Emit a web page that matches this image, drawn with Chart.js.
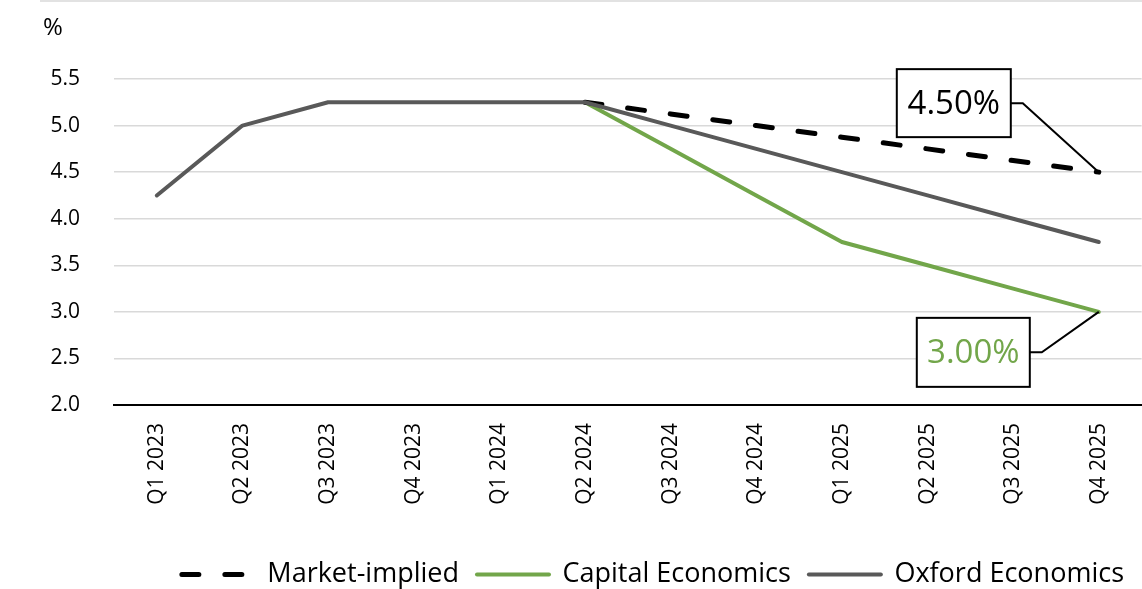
<!DOCTYPE html>
<html>
<head>
<meta charset="utf-8">
<script src="https://cdn.jsdelivr.net/npm/chart.js@4/dist/chart.umd.min.js"></script>
<style>
  html, body { margin: 0; padding: 0; background: #fff; }
  #wrap { width: 1142px; height: 589px; position: relative; }
</style>
</head>
<body>
<div id="wrap"><canvas id="rateChart"></canvas></div>
<script>
  const quarters = [
    "Q1 2023", "Q2 2023", "Q3 2023", "Q4 2023",
    "Q1 2024", "Q2 2024", "Q3 2024", "Q4 2024",
    "Q1 2025", "Q2 2025", "Q3 2025", "Q4 2025",
  ];
  const marketImplied = [null, null, null, null, null, 5.25, 5.125, 5.0, 4.875, 4.75, 4.625, 4.5];
  const capitalEconomics = [null, null, null, null, null, 5.25, 4.75, 4.25, 3.75, 3.5, 3.25, 3.0];
  const oxfordEconomics = [4.25, 5.0, 5.25, 5.25, 5.25, 5.25, 5.0, 4.75, 4.5, 4.25, 4.0, 3.75];
  const yMin = 2.0;
  const yMax = 5.5;
  const yStep = 0.5;
  const callouts = [
    { dataset: 0, text: "4.50%" },
    { dataset: 1, text: "3.00%" },
  ];

  const FONT = "'Open Sans', 'DejaVu Sans', sans-serif";
  const colors = {
    market: "#000000",
    capital: "#72a64a",
    oxford: "#595959",
    grid: "#d9d9d9",
    text: "#000000",
  };

  // box placement relative to the last point of each series
  const calloutLayout = [
    { dx: -202, dy: -103, w: 114, h: 68, color: colors.text },
    { dx: -182, dy: 6, w: 113, h: 69, color: colors.capital },
  ];

  const extrasPlugin = {
    id: "extras",
    afterDraw(chart) {
      const ctx = chart.ctx;
      ctx.save();
      // thin frame line at the top
      ctx.strokeStyle = colors.grid;
      ctx.lineWidth = 1.5;
      ctx.beginPath();
      ctx.moveTo(40, 1);
      ctx.lineTo(chart.width, 1);
      ctx.stroke();

      ctx.fillStyle = colors.text;
      ctx.font = "24px " + FONT;
      ctx.textAlign = "left";
      ctx.textBaseline = "middle";
      ctx.fillText("%", 43, 28);

      callouts.forEach((c, i) => {
        const meta = chart.getDatasetMeta(c.dataset);
        const pt = meta.data[meta.data.length - 1];
        const lay = calloutLayout[i];
        const bx = pt.x + lay.dx;
        const by = pt.y + lay.dy;
        ctx.strokeStyle = "#000";
        ctx.lineWidth = 2;
        ctx.beginPath();
        ctx.moveTo(bx + lay.w, by + lay.h / 2);
        ctx.lineTo(bx + lay.w + 12, by + lay.h / 2);
        ctx.lineTo(pt.x, pt.y);
        ctx.stroke();
        ctx.fillStyle = "#fff";
        ctx.fillRect(bx, by, lay.w, lay.h);
        ctx.strokeRect(bx, by, lay.w, lay.h);
        ctx.fillStyle = lay.color;
        ctx.font = "33px " + FONT;
        ctx.textAlign = "center";
        ctx.textBaseline = "middle";
        ctx.fillText(c.text, bx + lay.w / 2, by + lay.h / 2 + 1);
      });
      ctx.restore();
    },
  };

  function legendLabels(chart) {
    const items = Chart.defaults.plugins.legend.labels.generateLabels(chart);
    return items.map((item) => {
      const ds = chart.data.datasets[item.datasetIndex];
      item.lineDash = ds.borderDash || [];
      item.lineWidth = ds.borderWidth;
      item.lineCap = ds.borderCapStyle || "butt";
      item.strokeStyle = ds.borderColor;
      item.pointStyle = "line";
      return item;
    });
  }

  const ctx = document.getElementById("rateChart").getContext("2d");
  new Chart(ctx, {
    type: "line",
    data: {
      labels: quarters,
      datasets: [
        {
          label: "Market-implied",
          data: marketImplied,
          borderColor: colors.market,
          backgroundColor: colors.market,
          borderWidth: 5,
          borderDash: [17, 26],
          borderCapStyle: "round",
          pointRadius: 0,
          tension: 0,
          order: 1,
        },
        {
          label: "Capital Economics",
          data: capitalEconomics,
          borderColor: colors.capital,
          backgroundColor: colors.capital,
          borderWidth: 4,
          borderCapStyle: "round",
          borderJoinStyle: "round",
          pointRadius: 0,
          tension: 0,
          order: 1,
        },
        {
          label: "Oxford Economics",
          data: oxfordEconomics,
          borderColor: colors.oxford,
          backgroundColor: colors.oxford,
          borderWidth: 4,
          borderCapStyle: "round",
          borderJoinStyle: "round",
          pointRadius: 0,
          tension: 0,
          order: 0,
        },
      ],
    },
    options: {
      responsive: true,
      maintainAspectRatio: false,
      animation: false,
      layout: { padding: { top: 79, left: 0, right: 0, bottom: -9 } },
      plugins: {
        legend: {
          position: "bottom",
          align: "end",
          labels: {
            usePointStyle: true,
            pointStyle: "line",
            pointStyleWidth: 72,
            padding: 18,
            color: colors.text,
            font: { family: FONT, size: 27 },
            generateLabels: legendLabels,
            sort: (a, b) => a.datasetIndex - b.datasetIndex,
          },
        },
        tooltip: { enabled: false },
      },
      scales: {
        x: {
          offset: true,
          grid: { display: false, drawTicks: false },
          border: { color: "#000", width: 2 },
          ticks: {
            color: colors.text,
            font: { family: FONT, size: 21 },
            minRotation: 90,
            maxRotation: 90,
            padding: 18,
            autoSkip: false,
          },
          afterFit: (scale) => { scale.height = 138; },
        },
        y: {
          min: yMin,
          max: yMax,
          grid: { color: colors.grid, lineWidth: 1.5, drawTicks: false },
          border: { display: false },
          ticks: {
            stepSize: yStep,
            color: colors.text,
            font: { family: FONT, size: 21 },
            padding: 34,
            callback: (v) => Number(v).toFixed(1),
          },
          afterFit: (scale) => { scale.width = 114; },
        },
      },
    },
    plugins: [extrasPlugin],
  });
</script>
</body>
</html>
